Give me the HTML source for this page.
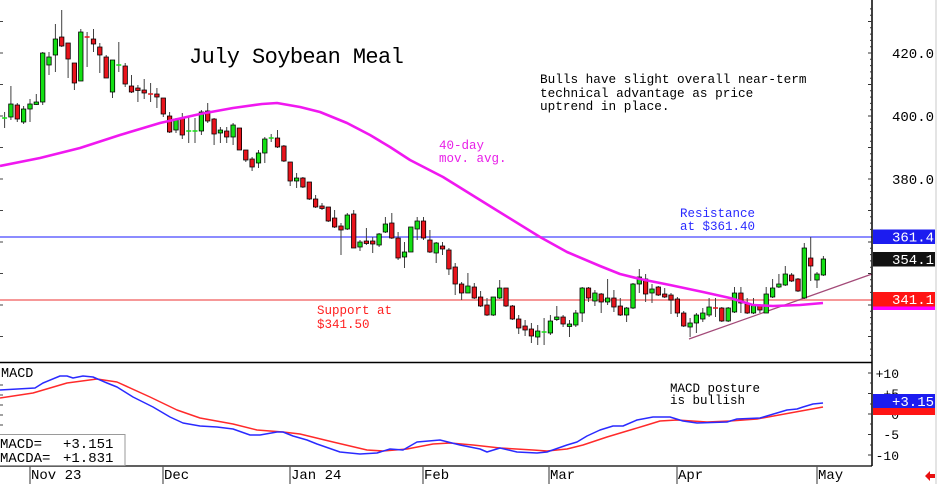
<!DOCTYPE html>
<html><head><meta charset="utf-8"><style>
html,body{margin:0;padding:0;background:#fff;}
svg{display:block;}
text{font-family:"Liberation Mono","DejaVu Sans Mono",monospace;}
</style></head><body>
<svg width="937" height="484" viewBox="0 0 937 484" xmlns="http://www.w3.org/2000/svg">
<rect x="0" y="0" width="937" height="484" fill="#fff"/>
<!-- frame right -->
<line x1="936" y1="0" x2="936" y2="484" stroke="#c8c8c8" stroke-width="1"/>
<!-- horizontal reference lines -->
<line x1="0" y1="237" x2="872" y2="237" stroke="#7b7bff" stroke-width="1.8"/>
<line x1="0" y1="300" x2="872" y2="300" stroke="#f58a8a" stroke-width="1.8"/>
<!-- trendline -->
<line x1="689" y1="339" x2="872" y2="274" stroke="#a34a78" stroke-width="1.2"/>
<!-- left ticks main -->
<path d="M0 21.5h3M0 53h3M0 84.5h3M0 116h3M0 147.5h3M0 179h3M0 210.5h3M0 242h3M0 273.5h3M0 305h3M0 336.5h3" stroke="#444" stroke-width="1"/>
<!-- wicks -->
<path fill="none" stroke="#404040" stroke-width="1" d="M4.6 112V128M10.9 86V120M17.3 103V122M23.6 106V124M30 99V122M36.3 94V105M42.7 52V105M49 52V75M55.4 24V72M61.7 10V47M68.1 43V78M74.4 63V90M80.8 29V81M87.1 32V67M93.5 29V52M99.8 43V73M106.2 55V78M112.5 60V98M118.8 42V72M125.2 63V87M131.5 75V93M137.9 85V102M144.2 79V99M150.6 83V102M156.9 88V108M163.3 98V117M169.6 112V133M176 118V133M182.3 113V139M188.7 117V143M195 118V143M201.4 110V135M207.7 103V123M214.1 118V145M220.4 127V143M226.7 127V143M233.1 123V145M239.4 128V150M245.8 150V162M252.1 157V171M258.5 150V168M264.8 137V163M271.2 134V142M277.5 130V148M283.9 145V162M290.2 162V186M296.6 173V188M302.9 177V188M309.3 182V200M315.6 195V208M322 203V210M328.3 207V222M334.6 210V228M341 223V255M347.3 213V230M353.7 210V248M360 240V251M366.4 228V245M372.7 237V253M379.1 233V247M385.4 217V233M391.8 213V239M398.1 232V260M404.5 242V268M410.8 227V252M417.2 217V240M423.5 217V240M429.9 230V253M436.2 242V263M442.5 242V255M448.9 248V275M455.2 263V295M461.6 282V300M467.9 273V293M474.3 283V299M480.6 291V307M487 298V316M493.3 297V316M499.7 280V299M506 288V307M512.4 305V320M518.7 315V334M525.1 320V336M531.4 323V343M537.7 325V345M544.1 318V345M550.4 315V335M556.8 306V321M563.1 315V327M569.5 320V337M575.8 310V327M582.2 287V322M588.5 287V302M594.9 290V306M601.2 293V313M607.6 279V305M613.9 290V312M620.3 298V316M626.6 307V322M633 283V309M639.3 269V293M645.6 274V302M652 284V303M658.3 286V296M664.7 288V298M671 293V314M677.4 297V317M683.7 311V327M690.1 318V337M696.4 313V333M702.8 308V322M709.1 298V317M715.5 298V317M721.8 307V322M728.2 307V322M734.5 287V313M740.9 287V313M747.2 298V314M753.5 298V314M759.9 304V313M766.2 287V313M772.6 279V298M778.9 274V288M785.3 266V286M791.6 273V282M798 278V292M804.3 243V299M810.7 237V281M817 272V288M823.4 256V276"/>
<!-- green bodies -->
<path fill="#14e014" stroke="#000" stroke-width="0.8" d="M8.7 104h4.4V117h-4.4zM21.4 109h4.4V122h-4.4zM27.8 104h4.4V109h-4.4zM34.1 102h4.4V104.5h-4.4zM40.5 53h4.4V102h-4.4zM46.8 57h4.4V65h-4.4zM53.2 39h4.4V55h-4.4zM78.6 32h4.4V81h-4.4zM110.3 60h4.4V92h-4.4zM173.8 119h4.4V130h-4.4zM199.2 112h4.4V131h-4.4zM218.2 130h4.4V133h-4.4zM230.9 125h4.4V137h-4.4zM256.3 153h4.4V163h-4.4zM262.6 139h4.4V153h-4.4zM294.4 178h4.4V181h-4.4zM345.1 215h4.4V229h-4.4zM357.8 242h4.4V247h-4.4zM376.9 234h4.4V245h-4.4zM383.2 224h4.4V232h-4.4zM402.3 252h4.4V257h-4.4zM408.6 227h4.4V252h-4.4zM415 221h4.4V229h-4.4zM434 243h4.4V253h-4.4zM465.7 286h4.4V293h-4.4zM491.1 297h4.4V315h-4.4zM497.5 288h4.4V298h-4.4zM535.5 331h4.4V337h-4.4zM548.2 321h4.4V333h-4.4zM554.6 317h4.4V319.5h-4.4zM567.3 324h4.4V326.5h-4.4zM573.6 313h4.4V325h-4.4zM580 288h4.4V313h-4.4zM592.7 293h4.4V301h-4.4zM605.4 298h4.4V302h-4.4zM624.4 308h4.4V315h-4.4zM630.8 284h4.4V308h-4.4zM637.1 277h4.4V284h-4.4zM649.8 289h4.4V293h-4.4zM687.9 323h4.4V327h-4.4zM694.2 315h4.4V323h-4.4zM700.6 313h4.4V319h-4.4zM706.9 307h4.4V315h-4.4zM726 308h4.4V321h-4.4zM732.3 293h4.4V312h-4.4zM751.3 305h4.4V313h-4.4zM764 294h4.4V313h-4.4zM770.4 288h4.4V297h-4.4zM776.7 284h4.4V287h-4.4zM783.1 274h4.4V285h-4.4zM802.1 248h4.4V298h-4.4zM814.8 274h4.4V280h-4.4zM821.2 259h4.4V275h-4.4z"/>
<!-- red bodies -->
<path fill="#e8141c" stroke="#000" stroke-width="0.8" d="M15.1 105h4.4V119h-4.4zM59.5 37h4.4V46h-4.4zM65.9 43h4.4V59h-4.4zM72.2 63h4.4V83h-4.4zM91.3 39h4.4V44h-4.4zM97.6 47h4.4V55h-4.4zM104 57h4.4V78h-4.4zM123 66h4.4V84h-4.4zM129.3 86h4.4V92h-4.4zM135.7 88h4.4V90.5h-4.4zM142 90h4.4V93h-4.4zM154.7 94h4.4V97h-4.4zM161.1 98h4.4V114h-4.4zM167.4 116h4.4V132h-4.4zM180.1 118h4.4V135h-4.4zM205.5 111h4.4V121h-4.4zM211.9 119h4.4V134h-4.4zM224.5 131h4.4V137h-4.4zM237.2 128h4.4V150h-4.4zM243.6 150h4.4V160h-4.4zM249.9 159h4.4V167h-4.4zM275.3 138h4.4V147h-4.4zM281.7 146h4.4V161h-4.4zM288 162h4.4V181h-4.4zM300.7 178h4.4V187h-4.4zM307.1 182h4.4V199h-4.4zM313.4 199h4.4V207h-4.4zM319.8 206h4.4V208.5h-4.4zM326.1 207h4.4V221h-4.4zM332.4 218h4.4V227h-4.4zM338.8 226h4.4V230h-4.4zM351.5 214h4.4V248h-4.4zM364.2 241h4.4V243.5h-4.4zM370.5 241h4.4V244h-4.4zM389.6 223h4.4V238h-4.4zM395.9 238h4.4V258h-4.4zM421.3 221h4.4V238h-4.4zM427.7 240h4.4V252h-4.4zM440.3 246h4.4V249h-4.4zM446.7 250h4.4V269h-4.4zM453 267h4.4V284h-4.4zM459.4 284h4.4V293h-4.4zM472.1 287h4.4V298h-4.4zM478.4 297h4.4V306h-4.4zM484.8 305h4.4V315h-4.4zM503.8 288h4.4V306h-4.4zM510.2 306h4.4V319h-4.4zM516.5 319h4.4V328h-4.4zM522.9 326h4.4V330h-4.4zM529.2 329h4.4V336h-4.4zM560.9 317h4.4V324h-4.4zM586.3 288h4.4V298h-4.4zM599 294h4.4V302h-4.4zM611.7 298h4.4V307h-4.4zM618.1 306h4.4V315h-4.4zM643.4 279h4.4V294h-4.4zM656.1 287h4.4V295h-4.4zM662.5 294h4.4V297h-4.4zM668.8 295h4.4V300h-4.4zM675.2 299h4.4V313h-4.4zM681.5 313h4.4V326h-4.4zM719.6 308h4.4V321h-4.4zM738.7 293h4.4V303h-4.4zM745 304h4.4V313h-4.4zM757.7 305h4.4V310h-4.4zM789.4 275h4.4V281h-4.4zM795.8 279h4.4V291h-4.4zM808.5 258h4.4V266h-4.4z"/>
<!-- doji ticks -->
<path stroke="#14e014" stroke-width="1.6" d="M2.1 118h5M116.3 65h5M186.2 131h5M192.5 131h5M268.7 138h5M541.6 332h5"/>
<path stroke="#e8141c" stroke-width="1.6" d="M84.6 37h5M148.1 94h5M713 308h5"/>
<!-- 40-day MA -->
<polyline fill="none" stroke="#f018f0" stroke-width="2.6" stroke-linejoin="round" points="0,166 40,158 80,148 120,135 160,123 200,114 233,108 262,104 277,103 300,107 320,112 347,123 370,135 390,147 410,160 443,177 493,208 540,237 567,252 600,266 620,274 640,279 670,285 703,292 730,298 753,305 773,306 800,305 823,303"/>
<!-- right axis main -->
<line x1="872" y1="0" x2="872" y2="466" stroke="#000" stroke-width="1.5"/>
<path stroke="#333" stroke-width="1" d="M868 21.5h4M868 53h4M868 84.5h4M868 116h4M868 147.5h4M868 179h4M868 210.5h4M868 242h4M868 273.5h4M868 305h4M868 336.5h4M870 8.9h2M870 15.2h2M870 27.8h2M870 34.1h2M870 40.4h2M870 46.7h2M870 59.3h2M870 65.6h2M870 71.9h2M870 78.2h2M870 90.8h2M870 97.1h2M870 103.4h2M870 109.7h2M870 122.3h2M870 128.6h2M870 134.9h2M870 141.2h2M870 153.8h2M870 160.1h2M870 166.4h2M870 172.7h2M870 185.3h2M870 191.6h2M870 197.9h2M870 204.2h2M870 216.8h2M870 223.1h2M870 229.4h2M870 248.3h2M870 254.6h2M870 260.9h2M870 267.2h2M870 279.8h2M870 286.1h2M870 292.4h2M870 311.3h2M870 317.6h2M870 323.9h2M870 330.2h2M870 342.8h2M870 349.1h2M870 355.4h2"/>
<g font-size="14" fill="#000" text-anchor="end">
<text x="934" y="58">420.0</text>
<text x="934" y="121">400.0</text>
<text x="934" y="184">380.0</text>
</g>
<!-- price boxes -->
<rect x="873" y="306" width="62" height="4" fill="#ff00ff"/>
<rect x="873" y="229.5" width="62" height="14.5" fill="#1c1cf0"/>
<rect x="873" y="252" width="62" height="14.5" fill="#111"/>
<rect x="873" y="292" width="62" height="14.5" fill="#ff1414"/>
<g font-size="14" fill="#fff" text-anchor="end">
<text x="934" y="241.5">361.4</text>
<text x="934" y="264">354.1</text>
<text x="934" y="304">341.1</text>
</g>
<!-- title and annotations -->
<text x="189" y="63" font-size="22" letter-spacing="-0.6" fill="#000">July Soybean Meal</text>
<g font-size="12.7" fill="#000">
<text x="540" y="83">Bulls have slight overall near-term</text>
<text x="540" y="97">technical advantage as price</text>
<text x="540" y="110">uptrend in place.</text>
</g>
<g font-size="12.5" fill="#e81ee8">
<text x="439" y="149">40-day</text>
<text x="439" y="162">mov. avg.</text>
</g>
<g font-size="12.5" fill="#2a2aff">
<text x="680" y="217">Resistance</text>
<text x="680" y="230">at $361.40</text>
</g>
<g font-size="12.5" fill="#ff2020">
<text x="317" y="314">Support at</text>
<text x="317" y="328">$341.50</text>
</g>
<!-- MACD panel -->
<line x1="0" y1="362.5" x2="872" y2="362.5" stroke="#000" stroke-width="1.6"/>
<line x1="0" y1="466" x2="872" y2="466" stroke="#000" stroke-width="1.2"/>
<path stroke="#444" stroke-width="1" d="M0 385h3M0 395h3M0 405h3M0 415h3M0 425h3"/>
<path stroke="#333" stroke-width="1" d="M868 373h4M868 393.5h4M868 414h4M868 434.5h4M868 455h4M870 383h2M870 404h2M870 424h2M870 445h2"/>
<text x="1" y="377" font-size="13.5" fill="#000">MACD</text>
<g font-size="13" fill="#000" text-anchor="end">
<text x="899" y="378">+10</text>
<text x="899" y="398">+5</text>
<text x="899" y="419">0</text>
<text x="899" y="439">-5</text>
<text x="899" y="460">-10</text>
</g>
<polyline fill="none" stroke="#ff2a2a" stroke-width="1.5" stroke-linejoin="round" points="0,398 33,393 67,383 97,379 117,382 150,397 177,410 200,418 233,424 257,430 283,432 300,434 333,442 367,450 383,451 407,449 433,444 450,443 473,445 500,448 533,450 547,451 567,449 583,445 607,437 627,431 647,425 660,421 677,420 707,422 730,421 757,419 790,413 823,407"/>
<polyline fill="none" stroke="#2a2aff" stroke-width="1.5" stroke-linejoin="round" points="0,390 35,388 43,383 60,376 67,376 73,378 83,376 93,377 107,383 117,387 133,397 153,407 170,417 183,423 200,426 217,427 233,429 250,435 260,435 277,432 283,432 293,436 307,440 317,444 340,452 360,454 377,453 390,449 403,450 417,442 440,440 460,445 480,449 487,452 500,448 517,452 537,453 547,452 567,445 577,442 587,436 600,430 613,426 623,426 637,420 653,417 670,417 683,421 697,423 727,422 737,419 760,418 787,410 797,409 803,407 813,404 823,403"/>
<g font-size="12.5" fill="#000">
<text x="670" y="392">MACD posture</text>
<text x="670" y="404">is bullish</text>
</g>
<rect x="873" y="408" width="62" height="7" fill="#ff1414"/>
<rect x="873" y="394" width="62" height="14" fill="#1c1cf0"/>
<text x="934" y="406" font-size="14" fill="#fff" text-anchor="end">+3.15</text>
<!-- MACD value box -->
<rect x="-1" y="434.5" width="126" height="31" fill="#fff" stroke="#9a9a9a" stroke-width="1"/>
<g font-size="14" fill="#000">
<text x="0" y="448">MACD=</text><text x="63" y="448">+3.151</text>
<text x="0" y="462">MACDA=</text><text x="63" y="462">+1.831</text>
</g>
<!-- date axis -->
<path stroke="#555" stroke-width="1.2" d="M30 466V484M163 466V484M290 466V484M423 466V484M549 466V484M677 466V484M817 466V484"/>
<g font-size="14" fill="#000">
<text x="31" y="479">Nov 23</text>
<text x="164" y="479">Dec</text>
<text x="291" y="479">Jan 24</text>
<text x="424" y="479">Feb</text>
<text x="550" y="479">Mar</text>
<text x="678" y="479">Apr</text>
<text x="818" y="479">May</text>
</g>
<!-- red arrow -->
<polygon points="925,476 930,471 930,474 935,474 935,478 930,478 930,481" fill="#e81010"/>
</svg>
</body></html>
